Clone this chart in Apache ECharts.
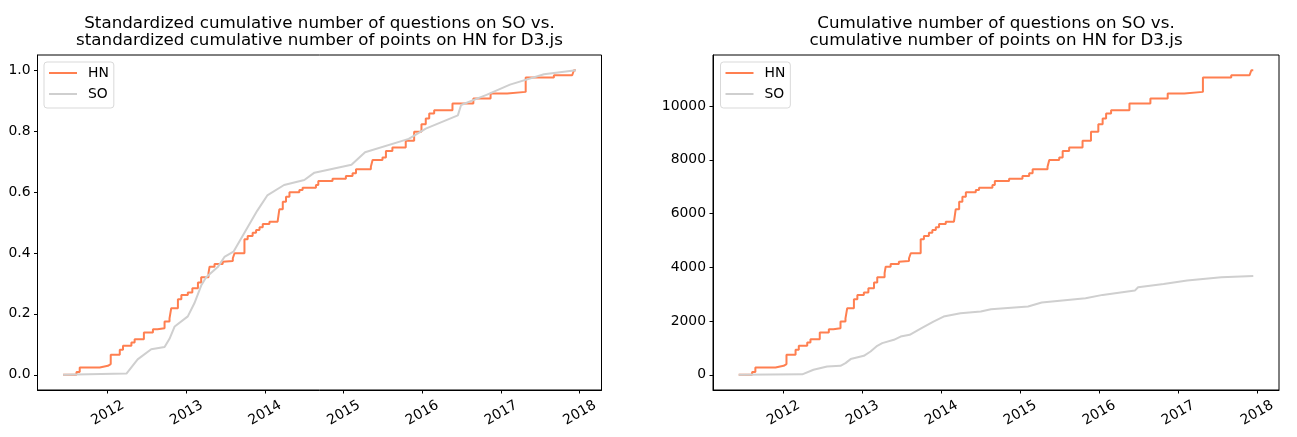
<!DOCTYPE html>
<html><head><meta charset="utf-8">
<script src="https://cdn.jsdelivr.net/npm/echarts@6/dist/echarts.min.js"></script>
<style>html,body{margin:0;padding:0;background:#fff}#c{width:1297px;height:437px}</style>
</head><body><div id="c"></div>
<script>
// ---- data ----
const hnDates = ['2011-06-08','2011-08-09','2011-08-24','2011-11-25','2012-01-02','2012-01-15','2012-02-26','2012-03-12','2012-04-20','2012-05-05','2012-06-17','2012-07-29','2012-08-19','2012-09-21','2012-10-14','2012-10-22','2012-11-22','2012-12-08','2013-01-07','2013-01-28','2013-02-23','2013-03-10','2013-04-13','2013-04-18','2013-05-11','2013-06-18','2013-06-26','2013-08-04','2013-08-12','2013-09-27','2013-10-12','2013-11-04','2013-11-20','2013-12-06','2013-12-21','2014-01-21','2014-02-28','2014-03-08','2014-03-24','2014-04-08','2014-04-24','2014-06-09','2014-06-24','2014-08-25','2014-09-05','2014-11-10','2015-01-11','2015-02-11','2015-02-27','2015-05-07','2015-05-15','2015-06-30','2015-07-16','2015-08-15','2015-10-16','2015-11-24','2015-12-28','2016-01-17','2016-02-02','2016-02-25','2016-05-20','2016-08-25','2016-11-13','2017-01-29','2017-04-25','2017-09-03','2017-11-27','2017-12-05','2017-12-14'];
const hnPoints = [0,100,270,335,397,743,930,1078,1200,1327,1573,1698,1735,1981,2100,2480,2814,2974,3060,3222,3431,3632,3781,4026,4126,4212,4238,4338,4524,5045,5167,5290,5390,5490,5613,5699,5736,6160,6443,6628,6792,6877,6963,7063,7212,7298,7398,7498,7647,7744,7993,8093,8330,8464,8711,9046,9331,9543,9729,9851,10100,10286,10472,10532,11067,11152,11215,11338,11338];

const soDates = ['2011-06-08','2012-03-28','2012-05-19','2012-07-21','2012-09-21','2012-10-14','2012-11-07','2013-01-07','2013-02-07','2013-03-10','2013-04-02','2013-05-26','2013-06-26','2013-08-07','2013-10-01','2013-11-25','2014-01-11','2014-03-30','2014-07-02','2014-08-18','2015-02-06','2015-04-10','2015-10-30','2016-01-17','2016-06-14','2016-06-29','2016-10-25','2017-02-11','2017-07-19','2017-12-14'];
const soQuestions = [0,15,186,309,335,435,584,706,867,1078,1178,1301,1424,1487,1735,1981,2167,2293,2353,2442,2539,2688,2851,2974,3134,3260,3383,3506,3632,3680];

const yearLabels = ['2012','2013','2014','2015','2016','2017','2018'];
const stdTickLabels = ['0.0','0.2','0.4','0.6','0.8','1.0'];
const rawTickLabels = ['0','2000','4000','6000','8000','10000'];

const titleLeft = 'Standardized cumulative number of questions on SO vs.\nstandardized cumulative number of points on HN for D3.js';
const titleRight = 'Cumulative number of questions on SO vs.\ncumulative number of points on HN for D3.js';

// ---- build ----
const ts = s => Date.parse(s + 'T00:00:00Z');
const hnMax = Math.max(...hnPoints), soMax = Math.max(...soQuestions);
const hnRaw = hnDates.map((d, i) => [ts(d), hnPoints[i]]);
const soRaw = soDates.map((d, i) => [ts(d), soQuestions[i]]);
const hnStd = hnDates.map((d, i) => [ts(d), hnPoints[i] / hnMax]);
const soStd = soDates.map((d, i) => [ts(d), soQuestions[i] / soMax]);

const t0 = ts(hnDates[0]), t1 = ts(hnDates[hnDates.length - 1]);
const xMin = t0 - 0.05 * (t1 - t0), xMax = t1 + 0.05 * (t1 - t0);
const yearTs = yearLabels.map(y => Date.UTC(+y, 0, 1));

const FONT = 'DejaVu Sans';
const HN_COLOR = '#ff7f50', SO_COLOR = '#cfcfcf';

function xAxisFor(gi) {
  return {
    type: 'value', gridIndex: gi, min: xMin, max: xMax,
    splitLine: { show: false },
    axisLine: { show: true, onZero: false, lineStyle: { color: '#000', width: 1 } },
    axisTick: { show: true, length: 3.5, customValues: yearTs, lineStyle: { color: '#000', width: 1 } },
    axisLabel: {
      customValues: yearTs, rotate: 30, align: 'center', verticalAlign: 'middle', margin: 23,
      formatter: v => String(new Date(v).getUTCFullYear()),
      color: '#000', fontSize: 13.9, fontFamily: FONT
    }
  };
}
function yAxisFor(gi, maxV, labels, fmt) {
  const vals = labels.map(Number);
  return {
    type: 'value', gridIndex: gi, min: -0.05 * maxV, max: 1.05 * maxV,
    splitLine: { show: false },
    axisLine: { show: true, onZero: false, lineStyle: { color: '#000', width: 1 } },
    axisTick: { show: true, length: 3.5, customValues: vals, lineStyle: { color: '#000', width: 1 } },
    axisLabel: { customValues: vals, margin: 7, formatter: fmt, color: '#000', fontSize: 13.9, fontFamily: FONT }
  };
}
function legendFor(left) {
  return {
    left: left, top: 62, orient: 'vertical', data: ['HN', 'SO'],
    icon: 'rect', itemWidth: 28, itemHeight: 2, itemGap: 7,
    padding: [4, 5, 7, 5], backgroundColor: '#fff', borderColor: '#d9d9d9', borderWidth: 1, borderRadius: 3,
    textStyle: { fontSize: 13.9, fontFamily: FONT, color: '#000', lineHeight: 14, padding: [0, 0, 0, 6] }
  };
}
function titleFor(text, left) {
  return { text: text, left: left, top: 15.5, textAlign: 'center', padding: 0,
    textStyle: { fontSize: 16.7, fontWeight: 'normal', fontFamily: FONT, color: '#000', lineHeight: 17 } };
}
function lineSeries(name, data, gi, color, step) {
  return { name: name, type: 'line', xAxisIndex: gi, yAxisIndex: gi, data: data, step: step,
    symbol: 'none', showSymbol: false, color: color, lineStyle: { color: color, width: 2 }, z: name === 'SO' ? 3 : 2 };
}

const chart = echarts.init(document.getElementById('c'), null, { renderer: 'canvas' });
chart.setOption({
  animation: false,
  backgroundColor: '#fff',
  title: [titleFor(titleLeft, 319.5), titleFor(titleRight, 996)],
  legend: [legendFor(44), legendFor(720.5)],
  grid: [
    { left: 37.5, top: 55, width: 564, height: 335, show: true, borderColor: '#000', borderWidth: 1, containLabel: false, outerBoundsMode: 'none' },
    { left: 713, top: 55, width: 566, height: 335, show: true, borderColor: '#000', borderWidth: 1, containLabel: false, outerBoundsMode: 'none' }
  ],
  xAxis: [xAxisFor(0), xAxisFor(1)],
  yAxis: [
    yAxisFor(0, 1, stdTickLabels, v => v.toFixed(1)),
    yAxisFor(1, hnMax, rawTickLabels, v => String(Math.round(v)))
  ],
  series: [
    lineSeries('HN', hnStd, 0, HN_COLOR, 'end'),
    lineSeries('SO', soStd, 0, SO_COLOR, false),
    lineSeries('HN', hnRaw, 1, HN_COLOR, 'end'),
    lineSeries('SO', soRaw, 1, SO_COLOR, false)
  ]
});
</script></body></html>
